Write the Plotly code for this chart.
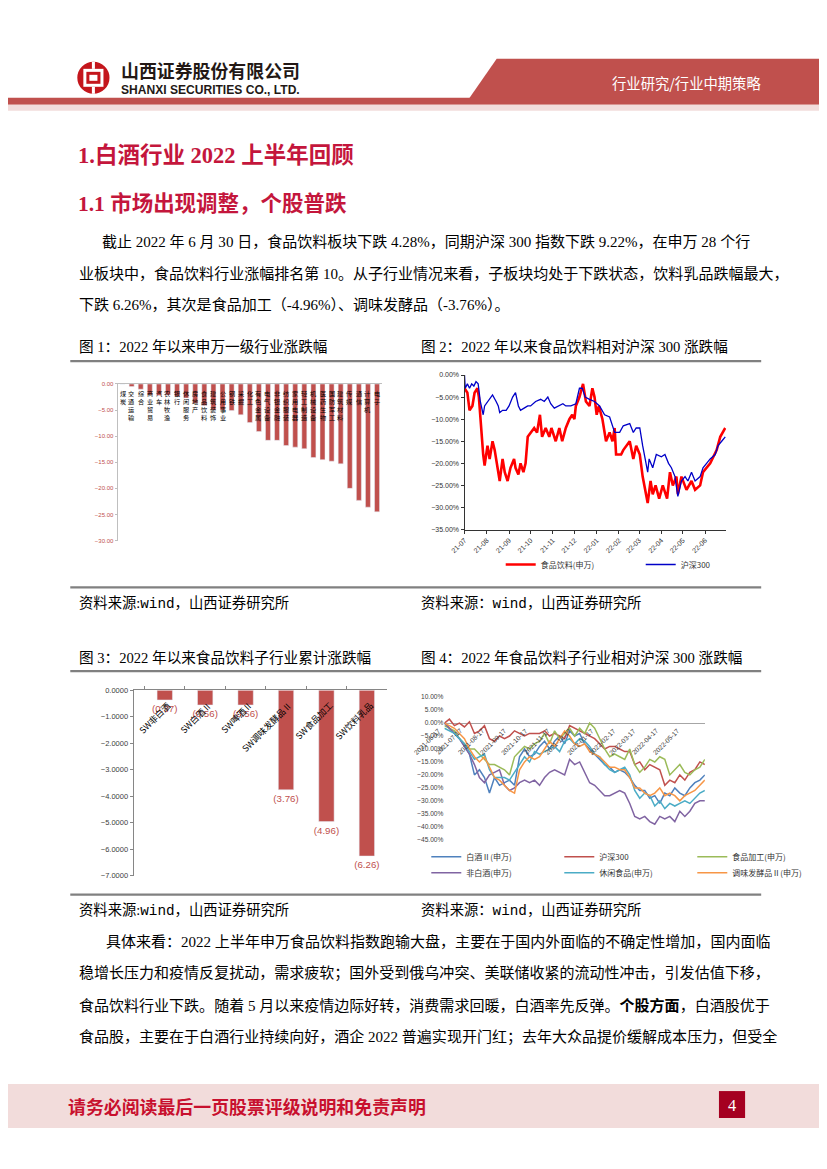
import plotly.graph_objects as go
import pandas as pd

W, H = 827, 1169
SX, OX = 0.9775, 22.0   # measured placement of the figure inside the photographed page
SY, OY = 0.995, 11.0
FS = 1 / SX
def px(x): return ((x - OX) / SX) / W
def py(y): return 1 - ((y - OY) / SY) / H

SERIF = "Liberation Serif, Noto Sans CJK SC, serif"
SANS = "Liberation Sans, Noto Sans CJK SC, sans-serif"
CJK = "Noto Sans CJK SC, sans-serif"
BARRED = "#c0504d"

# ---------------- Chart 1: 申万一级行业涨跌幅 ----------------
industries = ["煤炭","交通运输","综合","商业贸易","汽车","农林牧渔","银行","休闲服务","房地产","食品饮料",
              "建筑装饰","公用事业","钢铁","采掘","化工","有色金属","电气设备","非银金融","纺织服装","家用电器",
              "轻工制造","机械设备","医药生物","国防军工","建筑材料","传媒","通信","计算机","电子"]
industry_change = [0.0,-0.5,-1.0,-2.1,-2.2,-2.1,-2.4,-2.7,-3.7,-4.1,
                   -5.0,-5.0,-5.1,-5.9,-7.4,-9.1,-10.8,-10.8,-11.8,-12.1,
                   -12.4,-14.1,-14.5,-14.8,-15.3,-20.0,-22.3,-23.6,-24.5]
c1_ticks = [0,-5,-10,-15,-20,-25,-30]

# ---------------- Chart 2: 食品饮料 vs 沪深300 ----------------
food_dates = ["2021-07-01","2021-07-05","2021-07-08","2021-07-12","2021-07-15","2021-07-19","2021-07-21","2021-07-23",
              "2021-07-27","2021-07-29","2021-08-02","2021-08-05","2021-08-09","2021-08-12","2021-08-16","2021-08-19",
              "2021-08-23","2021-08-26","2021-08-30","2021-09-03","2021-09-08","2021-09-10","2021-09-14","2021-09-17",
              "2021-09-21","2021-09-24","2021-09-27","2021-10-01","2021-10-06","2021-10-10","2021-10-14","2021-10-17",
              "2021-10-22","2021-10-27","2021-10-30","2021-11-05","2021-11-10","2021-11-14","2021-11-19","2021-11-24",
              "2021-11-28","2021-12-01","2021-12-03","2021-12-08","2021-12-13","2021-12-17","2021-12-22","2021-12-26",
              "2021-12-29","2022-01-01","2022-01-04","2022-01-09","2022-01-14","2022-01-19","2022-01-23","2022-01-26",
              "2022-01-28","2022-02-04","2022-02-07","2022-02-16","2022-02-21","2022-02-25","2022-03-02","2022-03-06",
              "2022-03-13","2022-03-17","2022-03-20","2022-03-24","2022-03-29","2022-04-03","2022-04-09","2022-04-13",
              "2022-04-17","2022-04-22","2022-04-24","2022-04-29","2022-05-06","2022-05-13","2022-05-18","2022-05-25",
              "2022-05-29","2022-06-08","2022-06-17","2022-06-22","2022-06-29"]
food_vals = [-3,-4,-8,-7,-4,-3,-5,-10,-18,-20.5,-16,-19,-15,-17,-21,-24,-19,-22,-24,-21,-19,-21,-22.5,-20,-22,-20,
             -14,-13,-12,-13,-9,-14,-12,-14,-12,-15,-12,-15,-12,-10,-9,-10,-7,-5,-2,-6,-7,-3,-5,-9,-7,-10,-15,-13,
             -15,-12,-18,-18,-17,-15,-19,-16,-18,-23,-29,-24,-27,-25,-28,-25,-28,-22,-25,-23,-27,-23,-26,-24,-26,
             -25,-22,-20,-17,-14,-12]
hs_dates = ["2021-07-01","2021-07-02","2021-07-05","2021-07-08","2021-07-11","2021-07-14","2021-07-17","2021-07-20",
            "2021-07-23","2021-07-27","2021-07-29","2021-08-02","2021-08-05","2021-08-09","2021-08-14","2021-08-17",
            "2021-08-19","2021-08-23","2021-08-28","2021-09-01","2021-09-06","2021-09-10","2021-09-14","2021-09-17",
            "2021-09-22","2021-09-27","2021-10-01","2021-10-08","2021-10-15","2021-10-20","2021-10-25","2021-10-29",
            "2021-11-03","2021-11-10","2021-11-15","2021-11-19","2021-11-26","2021-12-03","2021-12-08","2021-12-12",
            "2021-12-16","2021-12-22","2021-12-29","2022-01-05","2022-01-12","2022-01-19","2022-01-26","2022-02-02",
            "2022-02-07","2022-02-16","2022-02-21","2022-02-25","2022-03-02","2022-03-06","2022-03-08","2022-03-13",
            "2022-03-15","2022-03-20","2022-03-25","2022-04-01","2022-04-06","2022-04-11","2022-04-15","2022-04-20",
            "2022-04-24","2022-04-29","2022-05-04","2022-05-08","2022-05-13","2022-05-18","2022-05-25","2022-05-29",
            "2022-06-03","2022-06-08","2022-06-15","2022-06-19","2022-06-24","2022-06-29"]
hs_vals = [0,-3,-2,-3,-2,-2.5,-1.5,-2,-6,-9,-7,-6,-5.5,-4.5,-6,-7,-8.5,-8,-8,-7,-5,-4,-7,-8,-7.5,-7,-7,-6,-5.5,
           -6,-5,-6.5,-7.5,-7,-6.5,-7,-7,-6.5,-3,-3,-5,-5.5,-6,-7,-9,-9.5,-13,-13,-11.5,-11,-13,-12,-12,-16,-18,
           -22,-19,-21,-18,-18.5,-18,-20,-21,-23,-27.5,-24,-23,-24,-22,-24,-23,-21,-20,-19,-18,-16,-15,-14]

# ---------------- Chart 3: 子行业累计涨跌幅 ----------------
sub_names = ["SW非白酒","SW白酒Ⅱ","SW啤酒Ⅱ","SW调味发酵品Ⅱ","SW食品加工","SW饮料乳品"]
sub_change = [-0.37,-0.56,-0.56,-3.76,-4.96,-6.26]

# ---------------- Chart 4: 子行业相对沪深300 ----------------
rel_dates = pd.date_range("2021-06-17", periods=53, freq="7D")
rel_tick_labels = ["2021-06-17","2021-07-17","2021-08-17","2021-09-17","2021-10-17","2021-11-17",
                   "2021-12-17","2022-01-17","2022-02-17","2022-03-17","2022-04-17","2022-05-17"]
baijiu = [0,-2,-4,-6,-9,-12,-20,-18,-21,-27,-21,-24,-23,-22,-24,-13,-10,-13,-12,-9,-7,-10,-7,-5,-8,-3,-5,-4,
          -8,-10,-12,-14,-16,-17,-19,-18,-19,-21,-24,-26,-26,-29,-28,-31,-27,-28,-25,-27,-28,-25,-23,-22,-20]
hs300_rel = [0,1.5,-1,0,-1.5,0.5,-4,-3,-1,-6,-7,-5,-6,-5,-3,-4,-5,-4,-4,-4,-3,-5,-4,-5,-6,-1,-2,-3,-4,-5,-6,
             -8,-10,-9,-9,-10,-11,-11,-16,-15,-18,-16,-17,-18,-24,-22,-23,-20,-22,-19,-18,-15,-16]
food_proc = [-1,-2,-3,-6,-8,-10,-10,-12,-14,-16,-16,-17,-18,-20,-13,-11,-9,-10,-8,-7,-4,-8,-3,-6,-4,-2,-5,-2,
             -4,0,-2,-6,-10,-13,-12,-13,-14,-10,-16,-19,-17,-14,-15,-13,-14,-20,-18,-16,-19,-20,-18,-17,-14]
non_baijiu = [0,-2,-4,-6,-9,-12,-16,-21,-23,-20,-19,-18,-24,-26,-25,-23,-22,-23,-22,-24,-21,-19,-18,-19,-20,
              -14,-16,-15,-19,-23,-24,-26,-28,-28,-27,-26,-27,-31,-36,-37,-36,-38,-39,-36,-37,-36,-38,-34,-36,
              -34,-31,-30,-30]
snacks = [-2,-3,-4,-6,-8,-11,-14,-13,-12,-18,-21,-21,-21,-22,-19,-16,-13,-15,-11,-12,-11,-10,-9,-11,-7,-6,-8,
          -6,-7,-9,-12,-13,-16,-18,-19,-18,-17,-20,-26,-29,-27,-28,-32,-30,-33,-31,-32,-31,-30,-31,-29,-27,-26]
seasoning = [0,-1,-2,-4,-6,-10,-13,-15,-13,-17,-21,-22,-24,-26,-27,-18,-15,-13,-14,-13,-10,-7,-9,-6,-3,-5,-8,
             -9,-8,-11,-12,-13,-15,-17,-17,-18,-18,-21,-25,-25,-27,-28,-27,-25,-28,-27,-28,-30,-28,-27,-26,-24,-22]
rel_series = [("白酒Ⅱ(申万)", baijiu, "#4f81bd", "legend2"),
              ("沪深300", hs300_rel, "#c0504d", "legend2"),
              ("食品加工(申万)", food_proc, "#9bbb59", "legend2"),
              ("非白酒(申万)", non_baijiu, "#8064a2", "legend3"),
              ("休闲食品(申万)", snacks, "#4bacc6", "legend3"),
              ("调味发酵品Ⅱ(申万)", seasoning, "#f79646", "legend3")]

fig = go.Figure()

fig.add_trace(go.Bar(x=industries, y=industry_change, marker_color=BARRED, width=0.55,
                     xaxis="x", yaxis="y", showlegend=False))
fig.add_trace(go.Scatter(x=food_dates, y=food_vals, mode="lines", name="食品饮料(申万)",
                         line=dict(color="#ff0000", width=2.6), xaxis="x2", yaxis="y2", legend="legend"))
fig.add_trace(go.Scatter(x=hs_dates, y=hs_vals, mode="lines", name="沪深300",
                         line=dict(color="#0000c8", width=1.3), xaxis="x2", yaxis="y2", legend="legend"))
fig.add_trace(go.Bar(x=sub_names, y=sub_change, marker_color=BARRED, width=0.38,
                     text=["(%.2f)" % abs(v) for v in sub_change], textposition="outside",
                     constraintext="none",
                     textfont=dict(size=9.5 * FS, color=BARRED, family=SANS), cliponaxis=False,
                     xaxis="x3", yaxis="y3", showlegend=False))
for name, vals, color, leg in rel_series:
    fig.add_trace(go.Scatter(x=rel_dates, y=vals, mode="lines", name=name,
                             line=dict(color=color, width=1.5), xaxis="x4", yaxis="y4", legend=leg))

shapes = []
ann = []

def rect(x0, y0, x1, y1, color):
    shapes.append(dict(type="rect", xref="paper", yref="paper", x0=px(x0), x1=px(x1), y0=py(y1), y1=py(y0),
                       fillcolor=color, line=dict(width=0), layer="above"))

def hline(y, x0=70, x1=757, color="#808080", w=2.2):
    shapes.append(dict(type="line", xref="paper", yref="paper", x0=px(x0), x1=px(x1), y0=py(y), y1=py(y),
                       line=dict(color=color, width=w)))

def txt(x, y, s, size, color="#000000", family=SERIF, xanchor="left"):
    ann.append(dict(xref="paper", yref="paper", x=px(x), y=py(y), text=s, showarrow=False, align="left",
                    xanchor=xanchor, yanchor="middle", font=dict(size=size * FS, color=color, family=family)))

# header
shapes.append(dict(type="path", xref="paper", yref="paper",
                   path="M %f,%f L %f,%f L %f,%f L %f,%f Z" % (px(465), py(100), px(494), py(58),
                                                               px(845), py(58), px(845), py(100)),
                   fillcolor=BARRED, line=dict(width=0)))
rect(-30, 97, 845, 104, BARRED)
rect(-30, 104, 845, 110, "#f2dcdb")
shapes.append(dict(type="circle", xref="paper", yref="paper", x0=px(77), x1=px(109), y0=py(93), y1=py(61),
                   fillcolor="#c4161c", line=dict(width=0)))
rect(83, 68, 103, 86, "#ffffff")
rect(86, 71, 100, 83, "#c4161c")
rect(89, 74, 97, 80, "#ffffff")
rect(91.5, 61, 94.5, 68, "#ffffff")
rect(91.5, 86, 94.5, 93, "#ffffff")
logo_text = ("<span style='font-size:%.1fpx;font-family:Noto Sans CJK SC'><b>山西证券股份有限公司</b></span><br>"
             "<b>SHANXI SECURITIES CO., LTD.</b>" % (17.5 * FS))
txt(118, 76.5, logo_text, 11.8, "#231815", "Liberation Sans Narrow, Liberation Sans, sans-serif")
txt(607, 82, "行业研究/行业中期策略", 14, "#ffffff", CJK)

RED_T = "#c4163c"
txt(76, 155, "<b>1.白酒行业 2022 上半年回顾</b>", 22, RED_T)
txt(76, 203, "<b>1.1 市场出现调整，个股普跌</b>", 21, RED_T)

BS = 14.7
txt(100, 241, "截止 2022 年 6 月 30 日，食品饮料板块下跌 4.28%，同期沪深 300 指数下跌 9.22%，在申万 28 个行", BS)
txt(77, 273, "业板块中，食品饮料行业涨幅排名第 10。从子行业情况来看，子板块均处于下跌状态，饮料乳品跌幅最大，", BS)
txt(77, 305, "下跌 6.26%，其次是食品加工（-4.96%）、调味发酵品（-3.76%）。", BS)

MONO = "<span style='font-family:Liberation Mono'>wind</span>"
txt(77, 347, "图 1：2022 年以来申万一级行业涨跌幅", 14.3)
txt(417, 347, "图 2：2022 年以来食品饮料相对沪深 300 涨跌幅", 14.3)
hline(361)
hline(588)
txt(77, 604, "资料来源:" + MONO + "，山西证券研究所", 14)
txt(417, 604, "资料来源：" + MONO + "，山西证券研究所", 14)
txt(77, 659, "图 3：2022 年以来食品饮料子行业累计涨跌幅", 14.3)
txt(417, 659, "图 4：2022 年食品饮料子行业相对沪深 300 涨跌幅", 14.3)
hline(672)
hline(896)
txt(77, 912, "资料来源:" + MONO + "，山西证券研究所", 14)
txt(417, 912, "资料来源：" + MONO + "，山西证券研究所", 14)

txt(104, 943, "具体来看：2022 上半年申万食品饮料指数跑输大盘，主要在于国内外面临的不确定性增加，国内面临", BS)
txt(77, 975, "稳增长压力和疫情反复扰动，需求疲软；国外受到俄乌冲突、美联储收紧的流动性冲击，引发估值下移，", BS)
txt(77, 1007, "食品饮料行业下跌。随着 5 月以来疫情边际好转，消费需求回暖，白酒率先反弹。<b>个股方面</b>，白酒股优于", BS)
txt(77, 1039, "食品股，主要在于白酒行业持续向好，酒企 2022 普遍实现开门红；去年大众品提价缓解成本压力，但受全", BS)

# footer
rect(-30, 1086, 845, 1130, "#f2dcdb")
txt(66, 1108, "<b>请务必阅读最后一页股票评级说明和免责声明</b>", 17.5, "#c8102e", CJK)
rect(715, 1093, 741, 1120, "#a50021")
txt(728, 1107, "4", 16, "#ffffff", SERIF, "center")

for name in industries:
    ann.append(dict(xref="x", yref="y", x=name, y=0, yshift=-3, text="<br>".join(name), showarrow=False,
                    xanchor="center", yanchor="top", font=dict(size=6.2, color="#000000", family=CJK)))
for name in sub_names:
    ann.append(dict(xref="x3", yref="y3", x=name, y=0, xshift=12, yshift=-6, text=name, showarrow=False,
                    textangle=-45, xanchor="right", yanchor="top", font=dict(size=8.8, color="#000000", family=CJK)))
for lab in rel_tick_labels:
    ann.append(dict(xref="x4", yref="y4", x=lab, y=0, yshift=-1, text=lab, showarrow=False,
                    textangle=-45, xanchor="right", yanchor="top", font=dict(size=6.6, color="#404040", family=SANS)))

fig.update_layout(
    width=W, height=H, margin=dict(l=0, r=0, t=0, b=0), autosize=False,
    paper_bgcolor="#ffffff", plot_bgcolor="rgba(0,0,0,0)",
    shapes=shapes, annotations=ann, bargap=0.4,
    xaxis=dict(domain=[px(117), px(380)], anchor="y", type="category", side="top", showline=True,
               linecolor="#bfbfbf", showticklabels=False, ticks="", showgrid=False, zeroline=False),
    yaxis=dict(domain=[py(541), py(384)], anchor="x", range=[-30, 0], tickvals=c1_ticks, tickformat=".2f",
               tickfont=dict(size=6, color=BARRED, family=SANS), showline=True, linecolor="#bfbfbf",
               showgrid=False, zeroline=False, ticks="outside", ticklen=2, tickcolor="#bfbfbf"),
    xaxis2=dict(domain=[px(462), px(722)], anchor="y2", type="date", range=["2021-07-01", "2022-06-30"],
                tick0="2021-07-01", dtick="M1", tickformat="%y-%m", tickangle=-45,
                tickfont=dict(size=7, family=SANS, color="#333333"), showline=True, linecolor="#333333",
                ticks="outside", ticklen=3, tickcolor="#333333", showgrid=False, zeroline=False),
    yaxis2=dict(domain=[py(530), py(375)], anchor="x2", range=[-35, 0], dtick=5, tick0=0, tickformat=".2f",
                ticksuffix="%", tickfont=dict(size=7, family=SANS, color="#333333"), showline=True,
                linecolor="#333333", ticks="outside", ticklen=3, tickcolor="#333333", showgrid=False, zeroline=False),
    xaxis3=dict(domain=[px(133), px(385)], anchor="y3", type="category", side="top", showline=True,
                linecolor="#868686", showticklabels=False, ticks="outside", tickson="boundaries", ticklen=3,
                tickcolor="#868686", showgrid=False, zeroline=False),
    yaxis3=dict(domain=[py(877), py(691)], anchor="x3", range=[-7, 0], dtick=1, tickformat=".4f",
                tickfont=dict(size=7.5, family=SANS, color="#404040"), showline=True, linecolor="#868686",
                ticks="outside", ticklen=3, tickcolor="#868686", showgrid=False, zeroline=False),
    xaxis4=dict(domain=[px(442), px(701)], anchor="y4", type="date", range=[rel_dates[0], rel_dates[-1]],
                showticklabels=False, showline=False, showgrid=False, zeroline=False),
    yaxis4=dict(domain=[py(841), py(698)], anchor="x4", range=[-45, 10], dtick=5, tick0=0, tickformat=".2f",
                ticksuffix="%", tickfont=dict(size=6.6, family=SANS, color="#404040"), showline=False,
                showgrid=False, zeroline=True, zerolinecolor="#a6a6a6", zerolinewidth=1),
    legend=dict(orientation="h", x=px(498), y=py(565), xanchor="left", yanchor="middle",
                font=dict(size=8, family=CJK, color="#333333"), itemwidth=30, entrywidth=95,
                bgcolor="rgba(0,0,0,0)"),
    legend2=dict(orientation="h", x=px(424), y=py(858), xanchor="left", yanchor="middle",
                 font=dict(size=8, family=CJK, color="#333333"), itemwidth=30, entrywidth=88,
                 bgcolor="rgba(0,0,0,0)"),
    legend3=dict(orientation="h", x=px(424), y=py(874), xanchor="left", yanchor="middle",
                 font=dict(size=8, family=CJK, color="#333333"), itemwidth=30, entrywidth=88,
                 bgcolor="rgba(0,0,0,0)"),
)

fig.write_html("out.html")
